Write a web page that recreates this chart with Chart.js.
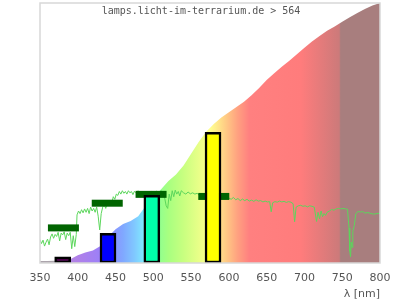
<!DOCTYPE html>
<html>
<head>
<meta charset="utf-8">
<script src="https://cdn.jsdelivr.net/npm/chart.js@4.4.1/dist/chart.umd.min.js"></script>
<style>
  html, body { margin: 0; padding: 0; background: #fff; }
  #box { width: 400px; height: 300px; }
</style>
</head>
<body>
<div id="box"><canvas id="spectrum"></canvas></div>
<script>
// lamp spectrum (filled area), relative units
var lampNm = [350, 360, 370, 380, 390, 400, 410, 420, 430, 440, 450, 460, 470, 480, 490, 500, 510, 520, 530, 540, 550, 560, 570, 580, 590, 600, 610, 620, 630, 640, 650, 660, 670, 680, 690, 700, 710, 720, 730, 740, 750, 760, 770, 780, 790, 800];
var lampVal = [0.8, 0.8, 0.9, 1.1, 1.4, 3.0, 4.0, 4.8, 6.5, 10.0, 13.0, 15.0, 16.2, 18.0, 22.0, 25.0, 28.3, 31.5, 34.0, 37.5, 42.0, 46.5, 50.5, 53.5, 56.0, 58.0, 60.0, 62.0, 64.5, 67.3, 70.4, 73.0, 75.5, 77.8, 80.3, 82.8, 85.2, 87.3, 89.3, 91.0, 92.8, 94.5, 96.2, 97.7, 99.0, 100];

// sunlight reference curve
var sunNm = [350, 352, 354, 356, 358, 360, 362, 364, 366, 368, 370, 372, 374, 376, 378, 380, 382, 384, 386, 388, 390, 392, 394, 396, 398, 399, 401, 403, 405, 407, 409, 411, 413, 415, 417, 419, 421, 423, 425, 427, 429, 431, 433, 435, 437, 439, 441, 443, 445, 447, 449, 451, 453, 455, 457, 459, 461, 463, 465, 467, 469, 471, 473, 475, 477, 480, 483, 486, 489, 492, 495, 498, 501, 504, 507, 510, 513, 515, 517, 519, 521, 523, 525, 527, 529, 531, 533, 535, 537, 540, 543, 546, 549, 552, 555, 558, 561, 565, 570, 575, 580, 585, 590, 595, 600, 603, 606, 609, 612, 615, 618, 621, 624, 627, 630, 633, 636, 639, 642, 645, 648, 651, 654, 656, 658, 661, 664, 667, 670, 673, 676, 679, 682, 685, 687, 689, 692, 695, 698, 701, 704, 707, 710, 713, 716, 718, 720, 722, 724, 726, 728, 730, 733, 736, 739, 742, 745, 748, 751, 754, 757, 759, 760, 761, 762, 763, 764, 766, 768, 771, 774, 777, 780, 784, 788, 792, 796, 800];
var sunVal = [9.0, 7.5, 8.8, 6.5, 8.0, 9.2, 7.0, 10.0, 11.2, 9.5, 11.0, 10.2, 11.8, 8.5, 11.5, 10.8, 12.0, 9.0, 11.5, 10.5, 11.8, 5.5, 10.5, 6.3, 11.0, 18.5, 20.0, 19.0, 20.5, 19.3, 20.8, 19.5, 21.0, 19.0, 21.5, 20.0, 21.0, 19.5, 21.5, 18.0, 12.7, 19.0, 21.5, 22.5, 21.0, 23.0, 22.0, 24.0, 23.0, 25.5, 24.5, 26.5, 26.0, 27.5, 26.5, 27.8, 26.8, 27.5, 26.5, 27.8, 27.0, 27.5, 26.3, 27.6, 27.0, 27.8, 26.8, 27.5, 26.5, 27.2, 26.8, 27.5, 27.0, 27.6, 26.8, 27.8, 27.0, 25.0, 22.0, 21.0, 26.5, 24.0, 27.8, 25.5, 28.0, 26.5, 27.5, 25.8, 27.8, 27.0, 26.5, 27.3, 26.6, 27.0, 26.5, 26.8, 26.0, 26.5, 26.0, 26.3, 25.8, 26.0, 25.5, 25.8, 25.0, 24.5, 25.2, 24.3, 24.8, 24.0, 24.6, 24.0, 24.5, 23.8, 24.2, 23.7, 24.3, 23.8, 24.0, 23.5, 23.8, 23.5, 23.6, 19.7, 23.2, 23.6, 23.4, 23.8, 23.5, 23.7, 23.3, 23.6, 23.4, 22.8, 15.9, 21.5, 22.0, 22.2, 21.8, 22.0, 21.6, 22.0, 21.8, 21.5, 16.0, 19.5, 17.0, 20.0, 17.8, 19.0, 18.3, 19.5, 20.0, 20.6, 20.3, 20.8, 21.0, 20.8, 21.0, 20.8, 20.7, 13.5, 4.5, 2.4, 8.0, 6.0, 12.0, 14.5, 19.0, 19.8, 19.6, 19.8, 19.2, 19.4, 19.0, 18.8, 19.0, 19.2];

// LED peaks (bars) and their reference levels (green marks)
var ledNm = [380, 440, 498, 579];
var ledVal = [2.4, 11.4, 26.0, 50.3];
var ledColors = ['#4a0048', '#0000ff', '#00ffaa', '#ffff00'];
var markNm = [381, 439, 497, 580];
var markVal = [13.5, 23.0, 26.4, 25.6];

var xTicks = [350, 400, 450, 500, 550, 600, 650, 700, 750, 800];

function pairs(xs, ys) {
  return xs.map(function (x, i) { return { x: x, y: ys[i] }; });
}

// spectrum colours along the wavelength axis
var rainbow = [
  [350, '#aca4ac'], [369, '#aca4ac'], [371, '#b890d8'], [400, '#b080e8'],
  [430, '#9c80f8'], [445, '#8c90ff'], [460, '#80a8ff'], [475, '#80c8ff'],
  [487, '#80e8ff'], [497, '#80ffd0'], [507, '#90ff90'], [520, '#a8ff80'],
  [540, '#c8ff80'], [560, '#e8ff88'], [575, '#ffff90'], [585, '#ffe88a'],
  [597, '#ffc884'], [612, '#ffa080'], [627, '#ff8080'], [695, '#ff7c7c'],
  [746, '#cc7a7a'], [748, '#a87e7e'], [800, '#a87e7e']
];

function areaFill(c) {
  var chart = c.chart;
  if (!chart.chartArea) return '#ccc';
  var sx = chart.scales.x;
  var x0 = sx.getPixelForValue(350), x1 = sx.getPixelForValue(800);
  var g = chart.ctx.createLinearGradient(x0, 0, x1, 0);
  rainbow.forEach(function (s) { g.addColorStop((s[0] - 350) / 450, s[1]); });
  return g;
}

var framePlugin = {
  id: 'frame',
  afterDraw: function (chart) {
    var a = chart.chartArea, ctx = chart.ctx;
    ctx.save();
    ctx.strokeStyle = '#d8d8d8';
    ctx.lineWidth = 1.5;
    ctx.strokeRect(a.left, a.top, a.right - a.left, a.bottom - a.top);
    ctx.fillStyle = '#555';
    ctx.font = '10px "DejaVu Sans Mono"';
    ctx.textAlign = 'center';
    ctx.textBaseline = 'middle';
    ctx.fillText('lamps.licht-im-terrarium.de > 564', 201, 11);
    ctx.restore();
  }
};

var ctx = document.getElementById('spectrum').getContext('2d');
var chart = new Chart(ctx, {
  data: {
    datasets: [{
      type: 'bar',
      data: pairs(ledNm, ledVal),
      backgroundColor: ledColors,
      borderColor: '#000',
      borderWidth: 2.5,
      borderSkipped: false,
      barThickness: 16,
      order: 0
    }, {
      type: 'scatter',
      data: pairs(markNm, markVal),
      pointStyle: 'line',
      pointRadius: 15.5,
      pointHoverRadius: 15.5,
      borderColor: '#006400',
      pointBorderWidth: 7,
      clip: false,
      order: 1
    }, {
      type: 'line',
      data: pairs(sunNm, sunVal),
      borderColor: '#5cd65c',
      borderWidth: 1,
      pointRadius: 0,
      fill: false,
      tension: 0,
      order: 2
    }, {
      type: 'line',
      data: pairs(lampNm, lampVal),
      borderWidth: 0,
      borderColor: 'rgba(0,0,0,0)',
      backgroundColor: areaFill,
      pointRadius: 0,
      fill: 'origin',
      tension: 0,
      order: 3
    }]
  },
  options: {
    responsive: true,
    maintainAspectRatio: false,
    animation: false,
    layout: { autoPadding: false, padding: { left: 40, right: 20, top: 3, bottom: 0 } },
    plugins: { legend: { display: false }, tooltip: { enabled: false } },
    scales: {
      x: {
        type: 'linear',
        offset: false,
        min: 350,
        max: 800,
        afterBuildTicks: function (s) { s.ticks = xTicks.map(function (v) { return { value: v }; }); },
        afterFit: function (s) { s.height = 37; },
        grid: { display: false, drawTicks: false, offset: false },
        border: { display: false },
        ticks: { color: '#555', padding: 9, font: { family: 'DejaVu Sans', size: 11 } },
        title: {
          display: true,
          text: 'λ [nm]',
          align: 'end',
          color: '#555',
          padding: 0,
          font: { family: 'DejaVu Sans', size: 11, lineHeight: 1 }
        }
      },
      y: { display: false, min: 0, max: 100 }
    }
  },
  plugins: [framePlugin]
});
</script>
</body>
</html>
